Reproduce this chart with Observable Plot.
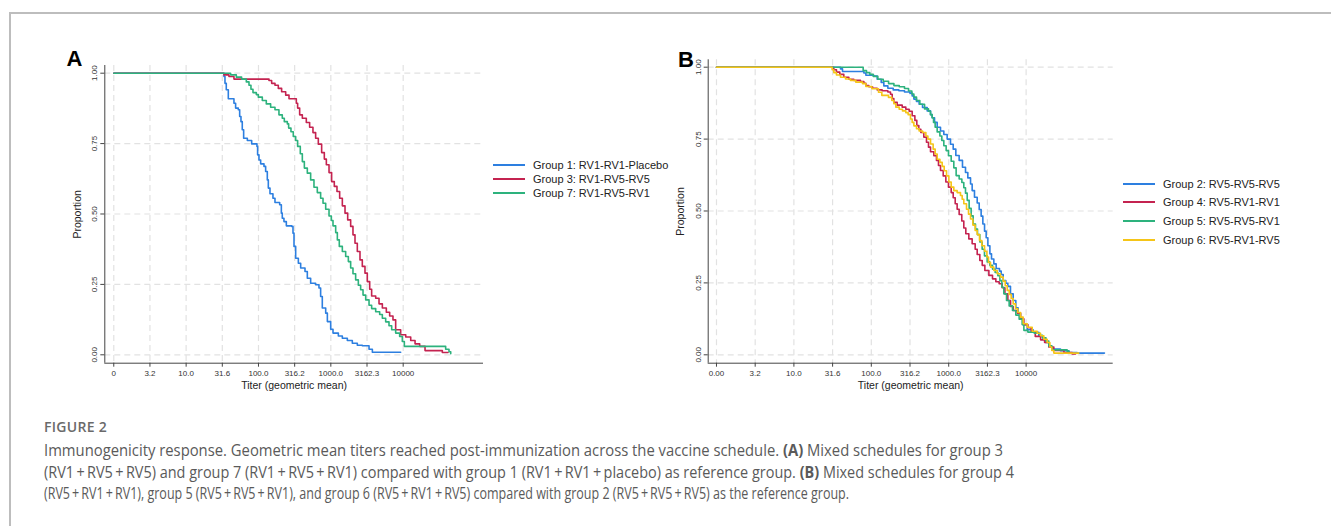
<!DOCTYPE html>
<html><head><meta charset="utf-8">
<script src="https://cdn.jsdelivr.net/npm/d3@7"></script>
<script src="https://cdn.jsdelivr.net/npm/@observablehq/plot@0.6"></script>
<style>
body{margin:0;background:#fff;}
#fig{position:relative;width:1331px;height:526px;overflow:hidden;background:#fff;font-family:"Liberation Sans",Arial,sans-serif;}
.bt{position:absolute;left:9px;top:12px;right:0;height:2px;background:#bdbdbd;}
.bl{position:absolute;left:9px;top:12px;bottom:0;width:2px;background:#bdbdbd;}
.panel{position:absolute;z-index:1;}
.letter{position:absolute;z-index:5;font:bold 22px "Liberation Sans",Arial,sans-serif;color:#000;line-height:22px;}
.legend{position:absolute;left:0;top:0;z-index:5;font-size:11px;color:#222;}
.legend .row{position:absolute;white-space:nowrap;display:flex;align-items:center;height:14px;margin-top:-7px;}
.legend .sw{width:32px;height:2px;margin-right:8px;}
.figlab{position:absolute;left:44px;top:419px;font:600 14px "Open Sans",sans-serif;color:#6a6a6a;line-height:16px;letter-spacing:0.3px;}
.cap{position:absolute;left:44px;font:400 16px "Open Sans",sans-serif;color:#5a5a5a;white-space:nowrap;line-height:21.7px;transform-origin:0 50%;}
.cap b{font-weight:700;}
</style></head><body>
<div id="fig">
  <div class="bt"></div><div class="bl"></div>
  <div id="pA" class="panel" style="left:50px;top:50px"></div>
  <div id="pB" class="panel" style="left:640px;top:50px"></div>
  <div class="letter" style="left:66.5px;top:48px">A</div>
  <div class="letter" style="left:678px;top:49px">B</div>
  <div id="legA" class="legend"></div>
  <div id="legB" class="legend"></div>
  <div class="figlab">FIGURE 2</div>
  <div class="cap" data-w="959" style="top:440px">Immunogenicity response. Geometric mean titers reached post-immunization across the vaccine schedule. <b>(A)</b> Mixed schedules for group 3</div>
  <div class="cap" data-w="970" style="top:461.7px">(RV1&#8201;+&#8201;RV5&#8201;+&#8201;RV5) and group 7 (RV1&#8201;+&#8201;RV5&#8201;+&#8201;RV1) compared with group 1 (RV1&#8201;+&#8201;RV1&#8201;+&#8201;placebo) as reference group. <b>(B)</b> Mixed schedules for group 4</div>
  <div class="cap" data-w="805" style="top:483.4px">(RV5&#8201;+&#8201;RV1&#8201;+&#8201;RV1), group 5 (RV5&#8201;+&#8201;RV5&#8201;+&#8201;RV1), and group 6 (RV5&#8201;+&#8201;RV1&#8201;+&#8201;RV5) compared with group 2 (RV5&#8201;+&#8201;RV5&#8201;+&#8201;RV5) as the reference group.</div>
</div>
<script>
// ---- axis ticks (x = log10 of titer) ----
const xTicks = [0, 0.5, 1, 1.5, 2, 2.5, 3, 3.5, 4];
const xTickLabelsA = ["0", "3.2", "10.0", "31.6", "100.0", "316.2", "1000.0", "3162.3", "10000"];
const xTickLabelsB = ["0.00", "3.2", "10.0", "31.6", "100.0", "316.2", "1000.0", "3162.3", "10000"];
const yTicks = [0, 0.25, 0.5, 0.75, 1];
const yTickLabels = ["0.00", "0.25", "0.50", "0.75", "1.00"];
const xTitle = "Titer (geometric mean)";
const yTitle = "Proportion";

// ---- panel A ----
const groupsA = ["Group 1: RV1-RV1-Placebo", "Group 3: RV1-RV5-RV5", "Group 7: RV1-RV5-RV1"];
const colorsA = ["#2d7fe0", "#c42350", "#2db27d"];

const g1Log = [0, 1.523, 1.537, 1.555, 1.583, 1.661, 1.684, 1.721, 1.740, 1.758, 1.776, 1.795, 1.846, 1.906, 1.979, 1.988, 2.007, 2.030, 2.076, 2.099, 2.122, 2.136, 2.159, 2.200, 2.228, 2.293, 2.316, 2.329, 2.352, 2.385, 2.458, 2.477, 2.491, 2.514, 2.551, 2.583, 2.643, 2.675, 2.721, 2.790, 2.836, 2.859, 2.882, 2.929, 2.952, 2.998, 3.030, 3.104, 3.159, 3.228, 3.297, 3.366, 3.435, 3.528, 3.574, 3.965];
const g1Prop = [1, 0.988, 0.964, 0.941, 0.909, 0.893, 0.876, 0.870, 0.846, 0.828, 0.799, 0.769, 0.761, 0.749, 0.740, 0.710, 0.692, 0.678, 0.669, 0.651, 0.621, 0.592, 0.572, 0.556, 0.541, 0.533, 0.503, 0.485, 0.473, 0.458, 0.456, 0.432, 0.385, 0.343, 0.325, 0.308, 0.296, 0.272, 0.254, 0.249, 0.237, 0.207, 0.166, 0.148, 0.118, 0.091, 0.077, 0.067, 0.059, 0.051, 0.041, 0.034, 0.032, 0.020, 0.009, 0.009];

const g3Log = [0, 1.523, 1.592, 1.661, 2.145, 2.182, 2.228, 2.274, 2.320, 2.376, 2.422, 2.523, 2.541, 2.569, 2.606, 2.661, 2.707, 2.753, 2.790, 2.827, 2.873, 2.910, 2.938, 2.975, 3.011, 3.048, 3.085, 3.122, 3.159, 3.196, 3.233, 3.274, 3.306, 3.334, 3.366, 3.403, 3.435, 3.472, 3.504, 3.537, 3.564, 3.620, 3.666, 3.712, 3.767, 3.813, 3.859, 3.896, 3.965, 4.035, 4.104, 4.164, 4.228, 4.302, 4.541, 4.62];
const g3Prop = [1, 0.994, 0.988, 0.979, 0.974, 0.964, 0.957, 0.946, 0.934, 0.922, 0.909, 0.893, 0.876, 0.852, 0.840, 0.825, 0.808, 0.789, 0.769, 0.748, 0.718, 0.695, 0.675, 0.647, 0.615, 0.598, 0.580, 0.556, 0.529, 0.503, 0.479, 0.456, 0.426, 0.396, 0.367, 0.337, 0.314, 0.290, 0.260, 0.233, 0.209, 0.201, 0.181, 0.166, 0.151, 0.138, 0.124, 0.089, 0.071, 0.063, 0.051, 0.039, 0.030, 0.015, 0.008, 0.008];

const g7Log = [0, 1.615, 1.694, 1.767, 1.832, 1.869, 1.896, 1.924, 1.970, 1.998, 2.053, 2.108, 2.168, 2.228, 2.283, 2.329, 2.357, 2.399, 2.417, 2.449, 2.481, 2.514, 2.541, 2.578, 2.606, 2.634, 2.675, 2.721, 2.767, 2.813, 2.859, 2.892, 2.929, 2.975, 3.007, 3.030, 3.067, 3.090, 3.117, 3.159, 3.205, 3.242, 3.274, 3.306, 3.343, 3.380, 3.412, 3.445, 3.482, 3.528, 3.564, 3.620, 3.675, 3.712, 3.758, 3.804, 3.841, 3.896, 3.951, 3.988, 4.016, 4.587, 4.633, 4.657];
const g7Prop = [1, 0.994, 0.986, 0.979, 0.969, 0.957, 0.943, 0.931, 0.924, 0.915, 0.903, 0.891, 0.879, 0.870, 0.852, 0.840, 0.828, 0.820, 0.805, 0.792, 0.775, 0.761, 0.740, 0.714, 0.686, 0.663, 0.645, 0.621, 0.595, 0.576, 0.556, 0.538, 0.517, 0.493, 0.477, 0.458, 0.434, 0.408, 0.385, 0.367, 0.349, 0.331, 0.308, 0.288, 0.266, 0.247, 0.231, 0.212, 0.195, 0.176, 0.164, 0.153, 0.143, 0.130, 0.117, 0.103, 0.089, 0.077, 0.065, 0.047, 0.030, 0.020, 0.011, 0.004];

// ---- panel B ----
const groupsB = ["Group 2: RV5-RV5-RV5", "Group 4: RV5-RV1-RV1", "Group 5: RV5-RV5-RV1", "Group 6: RV5-RV1-RV5"];
const colorsB = ["#2d7fe0", "#c42350", "#2db27d", "#f5c518"];

const g2Log = [0, 1.602, 1.628, 1.904, 1.930, 2.033, 2.076, 2.128, 2.162, 2.214, 2.283, 2.356, 2.429, 2.498, 2.528, 2.550, 2.584, 2.618, 2.662, 2.722, 2.765, 2.786, 2.817, 2.851, 2.894, 2.937, 2.980, 3.023, 3.058, 3.092, 3.135, 3.178, 3.217, 3.247, 3.282, 3.303, 3.333, 3.368, 3.394, 3.419, 3.441, 3.463, 3.484, 3.506, 3.532, 3.553, 3.583, 3.613, 3.656, 3.678, 3.704, 3.738, 3.764, 3.798, 3.833, 3.867, 3.897, 3.927, 3.962, 4.014, 4.091, 4.164, 4.212, 4.251, 4.293, 4.336, 4.444, 4.552, 4.659, 5.012];
const g2Prop = [1, 0.994, 0.985, 0.980, 0.972, 0.969, 0.958, 0.947, 0.935, 0.927, 0.921, 0.918, 0.914, 0.910, 0.900, 0.889, 0.881, 0.871, 0.860, 0.848, 0.835, 0.824, 0.808, 0.791, 0.778, 0.766, 0.750, 0.732, 0.715, 0.693, 0.676, 0.652, 0.634, 0.615, 0.594, 0.571, 0.548, 0.528, 0.505, 0.482, 0.455, 0.430, 0.407, 0.379, 0.351, 0.333, 0.316, 0.300, 0.291, 0.279, 0.258, 0.249, 0.238, 0.212, 0.189, 0.163, 0.143, 0.124, 0.105, 0.087, 0.078, 0.066, 0.059, 0.043, 0.029, 0.020, 0.014, 0.008, 0.006, 0.006];

const g4Log = [0, 1.516, 1.550, 1.593, 1.645, 1.710, 1.774, 1.860, 1.904, 1.930, 1.968, 2.016, 2.076, 2.140, 2.214, 2.248, 2.270, 2.291, 2.334, 2.399, 2.446, 2.489, 2.528, 2.563, 2.588, 2.614, 2.640, 2.678, 2.713, 2.739, 2.765, 2.808, 2.842, 2.868, 2.894, 2.929, 2.963, 2.997, 3.032, 3.058, 3.084, 3.109, 3.135, 3.169, 3.195, 3.221, 3.260, 3.303, 3.342, 3.368, 3.402, 3.433, 3.467, 3.519, 3.566, 3.609, 3.652, 3.691, 3.726, 3.764, 3.799, 3.833, 3.885, 3.928, 3.971, 4.023, 4.066, 4.118, 4.187, 4.239, 4.293, 4.358, 4.488, 4.595, 4.638];
const g4Prop = [1, 0.991, 0.983, 0.975, 0.965, 0.958, 0.954, 0.950, 0.944, 0.936, 0.932, 0.927, 0.921, 0.918, 0.914, 0.906, 0.891, 0.878, 0.868, 0.861, 0.854, 0.847, 0.831, 0.815, 0.797, 0.784, 0.773, 0.757, 0.739, 0.722, 0.706, 0.692, 0.676, 0.658, 0.641, 0.622, 0.601, 0.583, 0.564, 0.546, 0.525, 0.506, 0.488, 0.465, 0.441, 0.421, 0.403, 0.386, 0.367, 0.349, 0.328, 0.311, 0.293, 0.276, 0.264, 0.254, 0.247, 0.233, 0.212, 0.189, 0.168, 0.154, 0.145, 0.125, 0.105, 0.094, 0.079, 0.064, 0.052, 0.043, 0.027, 0.015, 0.008, 0.003, 0.003];

const g5Log = [0, 1.895, 1.938, 1.981, 2.025, 2.085, 2.154, 2.223, 2.292, 2.361, 2.429, 2.481, 2.524, 2.550, 2.584, 2.627, 2.688, 2.739, 2.765, 2.786, 2.804, 2.825, 2.851, 2.886, 2.911, 2.937, 2.967, 2.997, 3.032, 3.066, 3.096, 3.135, 3.170, 3.195, 3.217, 3.239, 3.264, 3.290, 3.316, 3.346, 3.372, 3.402, 3.432, 3.462, 3.497, 3.531, 3.566, 3.600, 3.635, 3.661, 3.687, 3.712, 3.747, 3.781, 3.824, 3.867, 3.910, 3.949, 3.971, 4.022, 4.108, 4.177, 4.212, 4.255, 4.293, 4.332, 4.530, 4.556];
const g5Prop = [1, 0.988, 0.981, 0.975, 0.968, 0.958, 0.951, 0.943, 0.936, 0.932, 0.926, 0.917, 0.907, 0.896, 0.884, 0.871, 0.855, 0.847, 0.835, 0.824, 0.808, 0.791, 0.775, 0.761, 0.745, 0.727, 0.710, 0.692, 0.673, 0.650, 0.623, 0.611, 0.599, 0.581, 0.562, 0.537, 0.509, 0.483, 0.455, 0.437, 0.418, 0.392, 0.367, 0.344, 0.323, 0.311, 0.298, 0.286, 0.275, 0.258, 0.235, 0.212, 0.189, 0.170, 0.154, 0.138, 0.124, 0.105, 0.085, 0.079, 0.075, 0.068, 0.059, 0.048, 0.031, 0.017, 0.012, 0.012];

const g6Log = [0, 1.494, 1.516, 1.550, 1.602, 1.667, 1.731, 1.800, 1.886, 1.930, 2.007, 2.093, 2.136, 2.222, 2.265, 2.291, 2.317, 2.360, 2.403, 2.446, 2.476, 2.506, 2.528, 2.550, 2.584, 2.618, 2.662, 2.705, 2.731, 2.765, 2.799, 2.825, 2.851, 2.886, 2.916, 2.942, 2.972, 3.002, 3.032, 3.066, 3.109, 3.152, 3.174, 3.195, 3.230, 3.256, 3.282, 3.312, 3.342, 3.368, 3.398, 3.428, 3.463, 3.493, 3.514, 3.540, 3.583, 3.626, 3.669, 3.704, 3.730, 3.756, 3.782, 3.807, 3.833, 3.863, 3.893, 3.928, 3.962, 4.014, 4.079, 4.143, 4.186, 4.229, 4.272, 4.307, 4.332, 4.358, 4.681];
const g6Prop = [1, 0.991, 0.981, 0.973, 0.965, 0.959, 0.954, 0.948, 0.943, 0.933, 0.925, 0.913, 0.902, 0.895, 0.884, 0.873, 0.861, 0.854, 0.848, 0.842, 0.835, 0.820, 0.808, 0.796, 0.786, 0.778, 0.773, 0.761, 0.750, 0.733, 0.715, 0.698, 0.680, 0.669, 0.655, 0.640, 0.622, 0.601, 0.583, 0.571, 0.564, 0.554, 0.541, 0.525, 0.506, 0.489, 0.472, 0.451, 0.432, 0.418, 0.397, 0.379, 0.360, 0.340, 0.321, 0.305, 0.293, 0.282, 0.270, 0.256, 0.240, 0.224, 0.210, 0.196, 0.177, 0.160, 0.147, 0.131, 0.108, 0.096, 0.082, 0.075, 0.066, 0.054, 0.043, 0.027, 0.015, 0.006, 0.006];

function toRows(groups, logs, props) {
  const rows = [];
  groups.forEach((g, k) => {
    const n = Math.min(logs[k].length, props[k].length);
    for (let i = 0; i < n; i++) rows.push({group: g, log: logs[k][i], p: props[k][i]});
  });
  return rows;
}

function panel({rows, groups, colors, xLabels, xDomain, yDomain, width, height, mL, mR, mT, mB}) {
  const xLab = new Map(xTicks.map((t, i) => [t, xLabels[i]]));
  const yLab = new Map(yTicks.map((t, i) => [t, yTickLabels[i]]));
  const gridStyle = {stroke: "#e2e2e2", strokeOpacity: 1, strokeWidth: 1.2, strokeDasharray: "6,4"};
  return Plot.plot({
    width, height, marginLeft: mL, marginRight: mR, marginTop: mT, marginBottom: mB,
    style: {fontFamily: "'Liberation Sans', Arial, sans-serif", fontSize: "8px", color: "#333", background: "transparent", overflow: "visible"},
    x: {domain: xDomain, type: "linear"},
    y: {domain: yDomain, type: "linear"},
    color: {domain: groups, range: colors},
    marks: [
      Plot.gridX(xTicks, gridStyle),
      Plot.gridY(yTicks, gridStyle),
      Plot.ruleX([xDomain[0]], {stroke: "#444", strokeWidth: 1}),
      Plot.ruleY([yDomain[0]], {stroke: "#444", strokeWidth: 1}),
      Plot.axisX(xTicks, {tickSize: 4, tickPadding: 3, tickFormat: d => xLab.get(d), label: null, stroke: "#444"}),
      Plot.axisY(yTicks, {tickSize: 4, tickPadding: 3.5, tickRotate: -90, tickFormat: d => yLab.get(d), label: null, stroke: "#444"}),
      Plot.text([xTitle], {text: d => d, frameAnchor: "bottom", dy: 25.5, fontSize: 10.5, fill: "#222"}),
      Plot.text([yTitle], {text: d => d, frameAnchor: "left", dx: -27.6, rotate: -90, textAnchor: "middle", fontSize: 10.5, fill: "#222"}),
      Plot.line(rows, {x: "log", y: "p", z: "group", stroke: "group", curve: "step-after", strokeWidth: 1.6})
    ]
  });
}

const rowsA = toRows(groupsA, [g1Log, g3Log, g7Log], [g1Prop, g3Prop, g7Prop]);
const rowsB = toRows(groupsB, [g2Log, g4Log, g5Log, g6Log], [g2Prop, g4Prop, g5Prop, g6Prop]);

document.getElementById("pA").appendChild(panel({
  rows: rowsA, groups: groupsA, colors: colorsA, xLabels: xTickLabelsA,
  xDomain: [-0.124, 5.11], yDomain: [-0.0298, 1.0273],
  width: 440, height: 350, mL: 54.3, mR: 7, mT: 15, mB: 37.3
}));
document.getElementById("pB").appendChild(panel({
  rows: rowsB, groups: groupsB, colors: colorsB, xLabels: xTickLabelsB,
  xDomain: [-0.107, 5.125], yDomain: [-0.0292, 1.0257],
  width: 480, height: 350, mL: 67.7, mR: 7.3, mT: 9.3, mB: 37.3
}));

function legend(el, groups, colors, x, y0, dy) {
  groups.forEach((g, i) => {
    const row = document.createElement("div");
    row.className = "row";
    row.style.left = x + "px";
    row.style.top = Math.round(y0 + i * dy) + "px";
    const sw = document.createElement("span");
    sw.className = "sw";
    sw.style.background = colors[i];
    const tx = document.createElement("span");
    tx.textContent = g;
    row.appendChild(sw); row.appendChild(tx);
    el.appendChild(row);
  });
}
legend(document.getElementById("legA"), groupsA, colorsA, 493, 164.5, 14.2);
legend(document.getElementById("legB"), groupsB, colorsB, 1123, 183.5, 18.7);

// fit caption lines horizontally to their widths in the reference
document.querySelectorAll(".cap").forEach(el => {
  const target = +el.dataset.w;
  const w = el.getBoundingClientRect().width;
  el.style.transform = "scaleX(" + (target / w).toFixed(4) + ")";
});
</script>
</body></html>
